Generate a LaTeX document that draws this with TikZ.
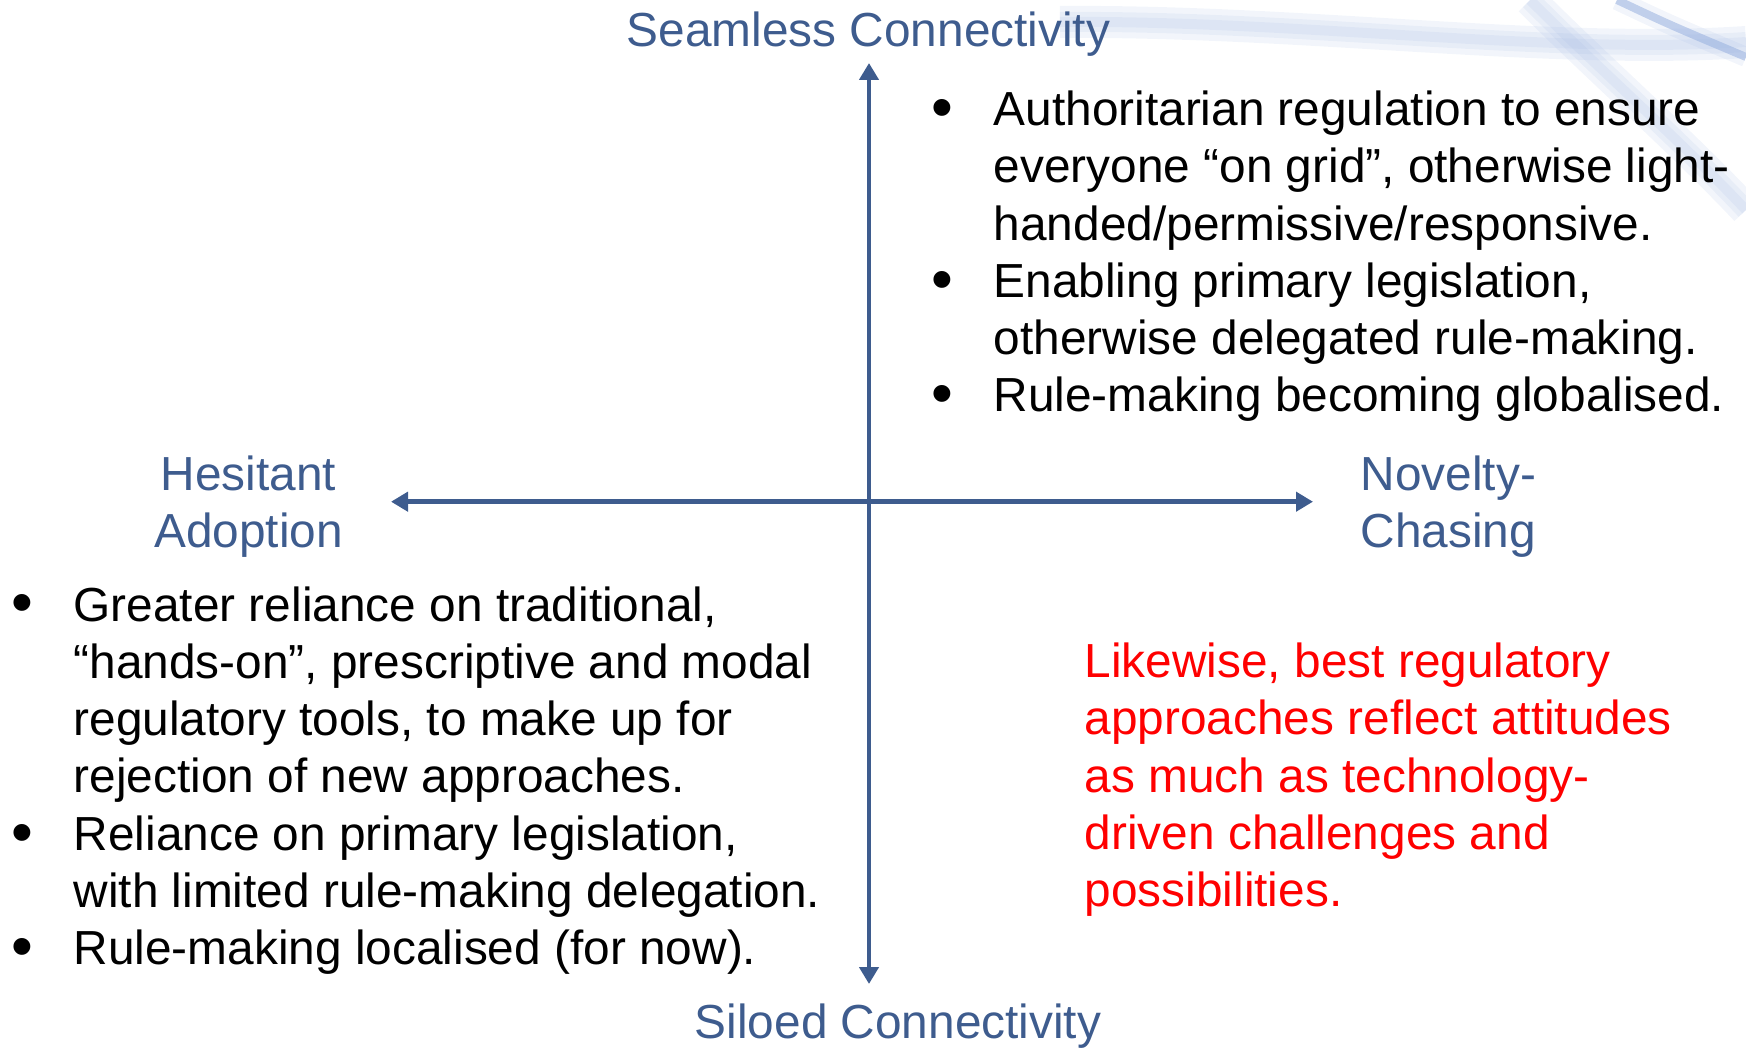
\documentclass[tikz,border=0pt]{standalone}
\usepackage{fontspec}
\setmainfont{Liberation Sans}
\usetikzlibrary{arrows.meta}
\definecolor{axisblue}{RGB}{62,92,142}
\definecolor{swoosh}{RGB}{150,175,222}
\newcommand{\bul}{\raisebox{-0.06em}{\scalebox{1.3}{•}}}

\begin{document}
\begin{tikzpicture}[
axisline/.style={draw=axisblue,line width=1.3pt,
  {Triangle[length=0.17cm,width=0.19cm]}-{Triangle[length=0.17cm,width=0.19cm]}},
lbl/.style={text=axisblue,inner sep=0,font=\fontsize{13.6pt}{16.3pt}\selectfont},
body/.style={inner sep=0,anchor=base west,font=\fontsize{13.6pt}{16.3pt}\selectfont},
soft/.style={swoosh,opacity=0.12}]
\useasboundingbox (0,0) rectangle (17.46,-10.48);

% faint swooshes of the slide background
\foreach \w in {0.1,0.2,0.32}
  \draw[soft,line width=\w cm] (10.6,-0.22) .. controls (13,-0.2) and (15.5,-0.55) .. (17.46,-0.42);
\foreach \w in {0.1,0.2,0.32}
  \draw[soft,line width=\w cm] (15.3,0) .. controls (16,-0.7) and (16.8,-1.4) .. (17.46,-2.1);
\draw[swoosh,line width=0.08cm,opacity=0.55] (16.17,0) .. controls (16.7,-0.25) .. (17.46,-0.57);
\draw[soft,line width=0.2cm] (16.17,0) .. controls (16.7,-0.25) .. (17.46,-0.57);

% axes
\coordinate (top) at (8.69,-0.63);
\coordinate (bottom) at (8.69,-9.84);
\coordinate (left) at (3.91,-5.017);
\coordinate (right) at (13.13,-5.017);
\draw[axisline] (top) -- (bottom);
\draw[axisline] (left) -- (right);

\node[lbl,anchor=base] (seamless) at (8.685,-0.465) {Seamless Connectivity};
\node[lbl,anchor=base] (siloed) at (8.98,-10.385) {Siloed Connectivity};
\node[lbl,anchor=base] (hesitant) at (2.485,-4.90)
  {\begin{tabular}[t]{@{}c@{}}Hesitant\\Adoption\end{tabular}};
\node[lbl,anchor=base west] (novelty) at (13.60,-4.907)
  {\begin{tabular}[t]{@{}l@{}}Novelty-\\Chasing\end{tabular}};

% quadrant texts
\node[body] (upper) at (9.31,-1.255) {\begin{tabular}[t]{@{}p{0.62cm}@{}l@{}}
\bul & Authoritarian regulation to ensure\\
  & everyone “on grid”, otherwise light-\\
  & handed/permissive/responsive.\\
\bul & Enabling primary legislation,\\
  & otherwise delegated rule-making.\\
\bul & Rule-making becoming globalised.
\end{tabular}};

\node[body] (lower) at (0.11,-6.21) {\begin{tabular}[t]{@{}p{0.62cm}@{}l@{}}
\bul & Greater reliance on traditional,\\
  & “hands-on”, prescriptive and modal\\
  & regulatory tools, to make up for\\
  & rejection of new approaches.\\
\bul & Reliance on primary legislation,\\
  & with limited rule-making delegation.\\
\bul & Rule-making localised (for now).
\end{tabular}};

\node[body,text=red] (note) at (10.84,-6.775) {\begin{tabular}[t]{@{}l@{}}
Likewise, best regulatory\\
approaches reflect attitudes\\
as much as technology-\\
driven challenges and\\
possibilities.
\end{tabular}};
\end{tikzpicture}
\end{document}
